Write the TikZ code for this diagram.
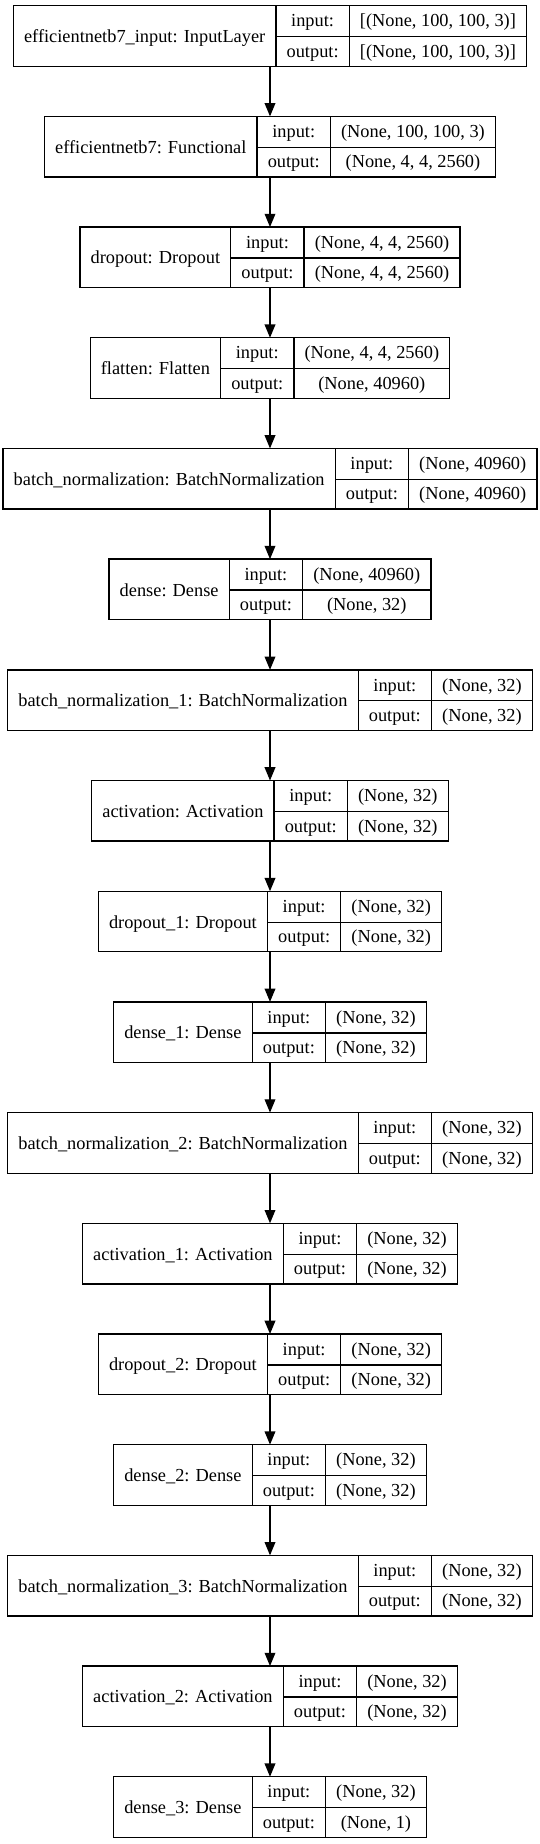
\documentclass[tikz,border=0pt]{standalone}
\usepackage{fontspec}
\setmainfont{Liberation Serif}
\usetikzlibrary{arrows.meta}
\setlength{\tabcolsep}{10.67pt}
\setlength{\arrayrulewidth}{1.33pt}
\newcommand\rowA{\rule[-9.1pt]{0pt}{30.3pt}}
\newcommand\lyrtab[3]{\begin{tabular}{c|c|c}\raisebox{-15.7pt}[0pt][0pt]{#1} & input:\rowA & #2\\ \cline{2-3} & output:\rowA & #3\end{tabular}}
\tikzset{
  layer/.style={draw=black, line width=1.33pt, inner sep=0pt, outer sep=0pt, fill=white,
    font=\fontsize{18.35pt}{22pt}\selectfont},
  arr/.style={draw=black, line width=1.33pt, -{Triangle[length=13.3pt,width=10.7pt]}}
}
\begin{document}
\begin{tikzpicture}[x=1pt,y=1pt]
\useasboundingbox[fill=white] (0,0) rectangle (540,-1844);
\def\py{110.69}
\node[layer] (L0) at (270,{-(36+0*\py)}) {\lyrtab{efficientnetb7\_input: InputLayer}{[(None, 100, 100, 3)]}{[(None, 100, 100, 3)]}};
\node[layer] (L1) at (270,{-(36+1*\py)}) {\lyrtab{efficientnetb7: Functional}{(None, 100, 100, 3)}{(None, 4, 4, 2560)}};
\node[layer] (L2) at (270,{-(36+2*\py)}) {\lyrtab{dropout: Dropout}{(None, 4, 4, 2560)}{(None, 4, 4, 2560)}};
\node[layer] (L3) at (270,{-(36+3*\py)}) {\lyrtab{flatten: Flatten}{(None, 4, 4, 2560)}{(None, 40960)}};
\node[layer] (L4) at (270,{-(36+4*\py)}) {\lyrtab{batch\_normalization: BatchNormalization}{(None, 40960)}{(None, 40960)}};
\node[layer] (L5) at (270,{-(36+5*\py)}) {\lyrtab{dense: Dense}{(None, 40960)}{(None, 32)}};
\node[layer] (L6) at (270,{-(36+6*\py)}) {\lyrtab{batch\_normalization\_1: BatchNormalization}{(None, 32)}{(None, 32)}};
\node[layer] (L7) at (270,{-(36+7*\py)}) {\lyrtab{activation: Activation}{(None, 32)}{(None, 32)}};
\node[layer] (L8) at (270,{-(36+8*\py)}) {\lyrtab{dropout\_1: Dropout}{(None, 32)}{(None, 32)}};
\node[layer] (L9) at (270,{-(36+9*\py)}) {\lyrtab{dense\_1: Dense}{(None, 32)}{(None, 32)}};
\node[layer] (L10) at (270,{-(36+10*\py)}) {\lyrtab{batch\_normalization\_2: BatchNormalization}{(None, 32)}{(None, 32)}};
\node[layer] (L11) at (270,{-(36+11*\py)}) {\lyrtab{activation\_1: Activation}{(None, 32)}{(None, 32)}};
\node[layer] (L12) at (270,{-(36+12*\py)}) {\lyrtab{dropout\_2: Dropout}{(None, 32)}{(None, 32)}};
\node[layer] (L13) at (270,{-(36+13*\py)}) {\lyrtab{dense\_2: Dense}{(None, 32)}{(None, 32)}};
\node[layer] (L14) at (270,{-(36+14*\py)}) {\lyrtab{batch\_normalization\_3: BatchNormalization}{(None, 32)}{(None, 32)}};
\node[layer] (L15) at (270,{-(36+15*\py)}) {\lyrtab{activation\_2: Activation}{(None, 32)}{(None, 32)}};
\node[layer] (L16) at (270,{-(36+16*\py)}) {\lyrtab{dense\_3: Dense}{(None, 32)}{(None, 1)}};
\foreach \a/\b in {0/1,1/2,2/3,3/4,4/5,5/6,6/7,7/8,8/9,9/10,10/11,11/12,12/13,13/14,14/15,15/16}
  \draw[arr] (L\a.south) -- (L\b.north);
\end{tikzpicture}
\end{document}
